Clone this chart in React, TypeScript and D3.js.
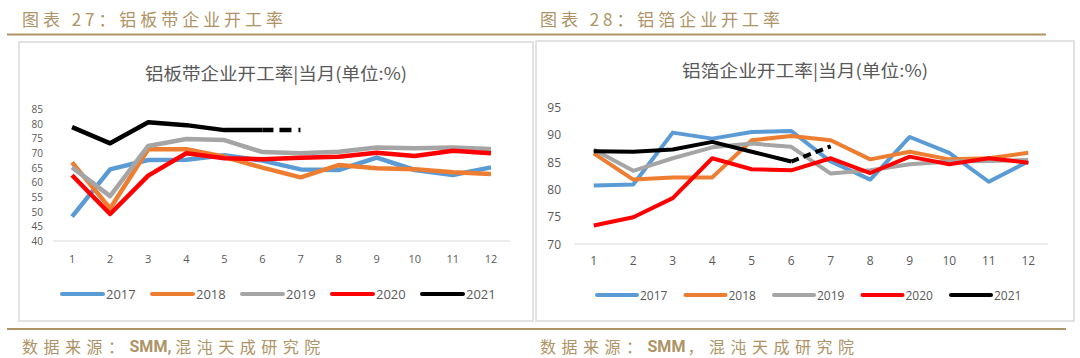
import React from 'react';
import * as d3 from 'd3';

const months = ['1', '2', '3', '4', '5', '6', '7', '8', '9', '10', '11', '12'];
const years = ['2017', '2018', '2019', '2020', '2021'];
const colors = ['#5B9BD5', '#ED7D31', '#A5A5A5', '#FF0000', '#000000'];

// 铝板带企业开工率
const sheet2017 = [48.3, 64.4, 67.6, 67.7, 69.2, 67.4, 64.4, 64.2, 68.4, 64.2, 62.5, 65.1];
const sheet2018 = [66.8, 51.1, 71.3, 71.3, 68.7, 65.0, 61.7, 65.9, 64.8, 64.5, 63.4, 62.8];
const sheet2019 = [65.1, 55.3, 72.4, 74.8, 74.4, 70.3, 69.9, 70.4, 71.9, 71.6, 71.9, 71.4];
const sheet2020 = [62.4, 49.2, 62.3, 69.9, 68.2, 67.9, 68.4, 68.7, 70.1, 69.0, 70.8, 69.9];
const sheet2021 = [78.8, 73.3, 80.5, 79.5, 77.8, 77.8, 77.8];
const sheetTicks = [40, 45, 50, 55, 60, 65, 70, 75, 80, 85];

// 铝箔企业开工率
const foil2017 = [80.7, 80.9, 90.4, 89.3, 90.5, 90.7, 85.1, 81.8, 89.6, 86.7, 81.4, 85.1];
const foil2018 = [86.6, 81.8, 82.2, 82.2, 89.0, 89.8, 89.0, 85.5, 86.9, 85.5, 85.7, 86.7];
const foil2019 = [87.3, 83.4, 85.7, 87.7, 88.4, 87.8, 82.9, 83.5, 84.6, 85.1, 85.2, 85.4];
const foil2020 = [73.4, 74.9, 78.4, 85.7, 83.7, 83.5, 85.7, 83.0, 86.0, 84.6, 85.7, 84.9];
const foil2021 = [87.0, 86.9, 87.3, 88.7, 86.9, 85.1, 87.9];
const foilTicks = [70, 75, 80, 85, 90, 95];

const gold = '#AE9366';
const textGray = '#595959';

type PanelProps = {
  title: string;
  series: number[][];
  ticks: number[];
  box: [number, number, number, number];
  xRange: [number, number];
  yRange: [number, number];
  titleX: number;
  titleY: number;
  titleLen: number;
  yLabelX: number;
  yFont: number;
  xLabelY: number;
  xFont: number;
  legendY: number;
  legendX0: number;
  legendStep: number;
  legendLine: number;
  legendFont: number;
  stroke: number;
  dash: string;
};

function Panel(p: PanelProps) {
  const x = d3.scalePoint<string>().domain(months).range(p.xRange).padding(0.5);
  const y = d3
    .scaleLinear()
    .domain([p.ticks[0], p.ticks[p.ticks.length - 1]])
    .range(p.yRange);
  const line = d3
    .line<number>()
    .x((_, i) => x(months[i]) as number)
    .y((d) => y(d));
  return (
    <g>
      <rect
        x={p.box[0]}
        y={p.box[1]}
        width={p.box[2]}
        height={p.box[3]}
        fill="#fff"
        stroke="#D9D9D9"
        strokeWidth={1.5}
      />
      <text
        x={p.titleX}
        y={p.titleY}
        textAnchor="middle"
        dominantBaseline="central"
        fontSize={17}
        fill={textGray}
        textLength={p.titleLen}
        lengthAdjust="spacingAndGlyphs"
        fontFamily="'Noto Sans CJK SC', sans-serif"
      >
        {p.title}
      </text>
      <line
        x1={p.xRange[0]}
        x2={p.xRange[1]}
        y1={p.yRange[0]}
        y2={p.yRange[0]}
        stroke="#D9D9D9"
        strokeWidth={1}
      />
      {p.ticks.map((t) => (
        <text
          key={t}
          x={p.yLabelX}
          y={y(t)}
          textAnchor="end"
          dominantBaseline="central"
          fontSize={p.yFont}
          fill={textGray}
          fontFamily="'Open Sans', sans-serif"
        >
          {t}
        </text>
      ))}
      {months.map((m) => (
        <text
          key={m}
          x={x(m)}
          y={p.xLabelY}
          textAnchor="middle"
          dominantBaseline="central"
          fontSize={p.xFont}
          fill={textGray}
          fontFamily="'Open Sans', sans-serif"
        >
          {m}
        </text>
      ))}
      {p.series.map((s, k) => {
        if (k === 4) {
          const solid = s.slice(0, 6);
          return (
            <g key={k}>
              <path
                d={line(solid) as string}
                fill="none"
                stroke={colors[k]}
                strokeWidth={p.stroke}
                strokeLinejoin="round"
              />
              <line
                x1={x(months[5])}
                y1={y(s[5])}
                x2={x(months[6])}
                y2={y(s[6])}
                stroke={colors[k]}
                strokeWidth={p.stroke}
                strokeDasharray={p.dash}
              />
            </g>
          );
        }
        return (
          <path
            key={k}
            d={line(s) as string}
            fill="none"
            stroke={colors[k]}
            strokeWidth={p.stroke}
            strokeLinejoin="round"
          />
        );
      })}
      {years.map((yr, k) => {
        const lx = p.legendX0 + k * p.legendStep;
        return (
          <g key={yr}>
            <line
              x1={lx}
              x2={lx + p.legendLine}
              y1={p.legendY}
              y2={p.legendY}
              stroke={colors[k]}
              strokeWidth={4}
              strokeLinecap="round"
            />
            <text
              x={lx + p.legendLine + 3}
              y={p.legendY}
              dominantBaseline="central"
              fontSize={p.legendFont}
              fill={textGray}
              fontFamily="'Open Sans', sans-serif"
            >
              {yr}
            </text>
          </g>
        );
      })}
    </g>
  );
}

export default function App() {
  return (
    <svg
      width={1080}
      height={358}
      style={{ position: 'absolute', left: 0, top: 0, background: '#fff' }}
      fontFamily="'Noto Sans CJK SC', sans-serif"
    >
      <rect x={0} y={0} width={1080} height={358} fill="#fff" />
      <text
        x={22}
        y={18}
        dominantBaseline="central"
        fontSize={17}
        fill={gold}
        textLength={261}
        lengthAdjust="spacing"
      >
        图表 27：铝板带企业开工率
      </text>
      <text
        x={540}
        y={18}
        dominantBaseline="central"
        fontSize={17}
        fill={gold}
        textLength={240}
        lengthAdjust="spacing"
      >
        图表 28：铝箔企业开工率
      </text>
      <line x1={7} x2={1046} y1={34.5} y2={34.5} stroke={gold} strokeWidth={2} />
      <Panel
        title="铝板带企业开工率|当月(单位:%)"
        series={[sheet2017, sheet2018, sheet2019, sheet2020, sheet2021]}
        ticks={sheetTicks}
        box={[19, 42, 514, 279]}
        xRange={[53, 510]}
        yRange={[241, 109]}
        titleX={276}
        titleY={72}
        titleLen={262}
        yLabelX={43}
        yFont={10}
        xLabelY={258}
        xFont={11}
        legendY={294}
        legendX0={62}
        legendStep={90}
        legendLine={41}
        legendFont={13}
        stroke={4.5}
        dash="11 6 12 7 2 40"
      />
      <Panel
        title="铝箔企业开工率|当月(单位:%)"
        series={[foil2017, foil2018, foil2019, foil2020, foil2021]}
        ticks={foilTicks}
        box={[536, 41, 538, 280]}
        xRange={[574, 1048]}
        yRange={[244, 107.5]}
        titleX={805}
        titleY={69}
        titleLen={246}
        yLabelX={561}
        yFont={12}
        xLabelY={260}
        xFont={12}
        legendY={295}
        legendX0={597}
        legendStep={88.5}
        legendLine={40}
        legendFont={12}
        stroke={4}
        dash="8 5"
      />
      <line x1={7} x2={1066} y1={329} y2={329} stroke={gold} strokeWidth={2} />
      <text x={22} y={346} dominantBaseline="central" fontSize={16} fill={gold}>
        <tspan letterSpacing={5.5}>数据来源：</tspan>
        <tspan fontFamily="'Liberation Sans Narrow', 'Roboto', sans-serif" fontWeight="bold">
          SMM,
        </tspan>
        <tspan letterSpacing={5.5} dx={4}>
          混沌天成研究院
        </tspan>
      </text>
      <text x={540} y={346} dominantBaseline="central" fontSize={16} fill={gold}>
        <tspan letterSpacing={5.5}>数据来源：</tspan>
        <tspan fontFamily="'Liberation Sans Narrow', 'Roboto', sans-serif" fontWeight="bold">
          SMM
        </tspan>
        <tspan letterSpacing={5.5} dx={2}>
          ，混沌天成研究院
        </tspan>
      </text>
    </svg>
  );
}
